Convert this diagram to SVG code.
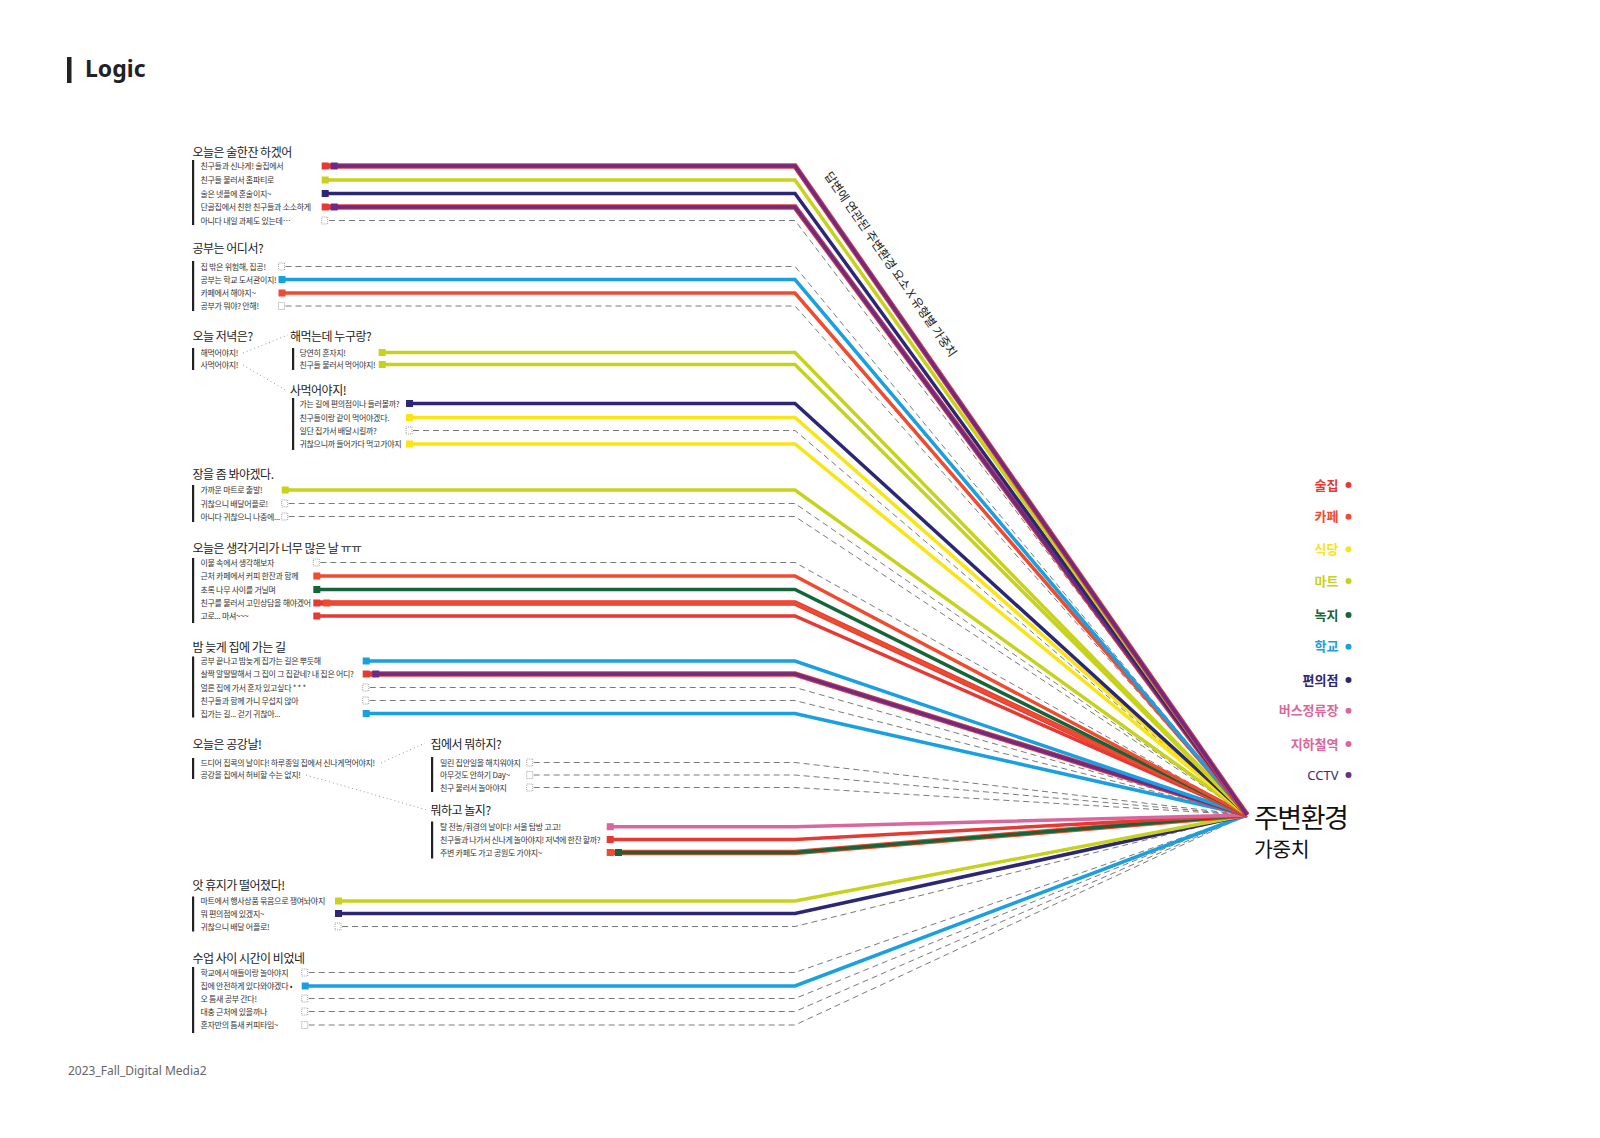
<svg xmlns="http://www.w3.org/2000/svg" width="1600" height="1138" viewBox="0 0 1600 1138">
<style>
text{font-family:"Noto Sans CJK KR","Noto Sans",sans-serif}
.t{font-size:12px;letter-spacing:-0.5px;fill:#222}
.i{font-size:8px;letter-spacing:-0.3px;fill:#333}
.bar{fill:#222}
.l{fill:none;stroke-width:3.5;stroke-linejoin:miter}
.w{stroke-width:5.5}
.d{fill:none;stroke:#7a7a7a;stroke-width:1;stroke-dasharray:6 4}
.e{fill:none;stroke:#8a8a8a;stroke-width:0.8;stroke-dasharray:1 1}
.dot{fill:none;stroke:#999;stroke-width:1;stroke-dasharray:1 3}
.S{stroke:#e53a33}.fS{fill:#e53a33}
.K{stroke:#ef4b30}.fK{fill:#ef4b30}
.Y{stroke:#f9e415}.fY{fill:#f9e415}
.M{stroke:#c6d21b}.fM{fill:#c6d21b}
.G{stroke:#16643a}.fG{fill:#16643a}
.B{stroke:#1a9fe0}.fB{fill:#1a9fe0}
.N{stroke:#2c2774}.fN{fill:#2c2774}
.P{stroke:#d9679e}.fP{fill:#d9679e}
.V{stroke:#6a2c88}.fV{fill:#6a2c88}
.lg{font-size:13px;font-weight:700;text-anchor:end}
</style>
<rect width="1600" height="1138" fill="#fff"/>

<g id="header">
<rect x="67" y="57" width="4.5" height="26" fill="#222"/>
<text x="85" y="77" style="font-family:'Noto Sans',sans-serif;font-size:23px;font-weight:700;fill:#222">Logic</text>
</g>
<g id="footer">
<text x="68" y="1075" style="font-family:'Noto Sans',sans-serif;font-size:12px;fill:#666">2023_Fall_Digital Media2</text>
</g>

<!-- connectors -->
<g id="connectors">
<path class="dot" d="M243,353 L288,335"/>
<path class="dot" d="M243,365 L287,391"/>
<path class="dot" d="M381,763 L425,743"/>
<path class="dot" d="M306,775 L427,810"/>
<polyline class="d" points="329,220.5 795,220.5 1247,815"/>
<polyline class="d" points="285.5,266.5 795,266.5 1247,815"/>
<polyline class="d" points="285.5,306 795,306 1247,815"/>
<polyline class="d" points="413,430.5 795,430.5 1247,815"/>
<polyline class="d" points="288.7,503.5 795,503.5 1247,815"/>
<polyline class="d" points="288.7,516.5 795,516.5 1247,815"/>
<polyline class="d" points="320.3,562.5 795,562.5 1247,815"/>
<polyline class="d" points="369.7,687.5 795,687.5 1247,815"/>
<polyline class="d" points="369.7,700.5 795,700.5 1247,815"/>
<polyline class="d" points="533.7,762.5 795,762.5 1247,815"/>
<polyline class="d" points="533.7,775 795,775 1247,815"/>
<polyline class="d" points="533.7,787.5 795,787.5 1247,815"/>
<polyline class="d" points="342,926.5 795,926.5 1247,815"/>
<polyline class="d" points="308.7,972.5 795,972.5 1247,815"/>
<polyline class="d" points="308.7,998.5 795,998.5 1247,815"/>
<polyline class="d" points="308.7,1011.5 795,1011.5 1247,815"/>
<polyline class="d" points="308.7,1025 795,1025 1247,815"/>
<polyline class="l B" points="305,986 795,986 1247,815"/>
<polyline class="l N" points="338.5,913.5 795,913.5 1247,815"/>
<polyline class="l M" points="338.5,901 795,901 1247,815"/>
<polyline class="l w K" points="610,852.5 795,852.5 1247,815"/>
<polyline class="l G" points="618.5,852.5 795,852.5 1247,815"/>
<polyline class="l S" points="610,839.5 795,839.5 1247,815"/>
<polyline class="l P" points="610,826.7 795,826.7 1247,815"/>
<polyline class="l B" points="366,713.5 795,713.5 1247,815"/>
<polyline class="l w S" points="366,674 795,674 1247,815"/>
<polyline class="l V" points="375.8,674 795,674 1247,815"/>
<polyline class="l B" points="366,661 795,661 1247,815"/>
<polyline class="l S" points="316.8,616 795,616 1247,815"/>
<polyline class="l w S" points="316.8,603 795,603 1247,815"/>
<polyline class="l K" points="326.8,603 795,603 1247,815"/>
<polyline class="l G" points="316.8,589.5 795,589.5 1247,815"/>
<polyline class="l K" points="316.8,576 795,576 1247,815"/>
<polyline class="l M" points="285.2,490 795,490 1247,815"/>
<polyline class="l Y" points="409.5,444 795,444 1247,815"/>
<polyline class="l Y" points="409.5,417.5 795,417.5 1247,815"/>
<polyline class="l N" points="409.5,403.5 795,403.5 1247,815"/>
<polyline class="l M" points="382.2,364.5 795,364.5 1247,815"/>
<polyline class="l M" points="382.2,352.5 795,352.5 1247,815"/>
<polyline class="l K" points="282,293 795,293 1247,815"/>
<polyline class="l B" points="282,279.5 795,279.5 1247,815"/>
<polyline class="l w S" points="325.2,207 795,207 1247,815"/>
<polyline class="l V" points="334.2,207 795,207 1247,815"/>
<polyline class="l N" points="325.2,193.5 795,193.5 1247,815"/>
<polyline class="l M" points="325.2,180 795,180 1247,815"/>
<polyline class="l w S" points="325.2,166 795,166 1247,815"/>
<polyline class="l V" points="334.2,166 795,166 1247,815"/>
</g>

<g id="axis-label">
<text transform="translate(824,175.5) rotate(55.3)" style="font-size:12px;fill:#222">답변에 연관된 주변환경 요소 X 유형별 가중치</text>
</g>

<g id="g1">
<text class="t" x="192.5" y="156.5">오늘은 술한잔 하겠어</text>
<rect class="bar" x="192" y="160" width="2.2" height="65"/>
<text class="i" x="200.5" y="169">친구들과 신나게! 술집에서</text>
<text class="i" x="200.5" y="183">친구들 불러서 홈파티로</text>
<text class="i" x="200.5" y="196.5">술은 넷플에 혼술이지~</text>
<text class="i" x="200.5" y="210">단골집에서 친한 친구들과 소소하게</text>
<text class="i" x="200.5" y="223.5">아니다 내일 과제도 있는데…</text>
<rect class="fS" x="321.7" y="162.5" width="7" height="7"/><rect class="fV" x="330.7" y="162.5" width="7" height="7"/>
<rect class="fM" x="321.7" y="176.5" width="7" height="7"/>
<rect class="fN" x="321.7" y="190" width="7" height="7"/>
<rect class="fS" x="321.7" y="203.5" width="7" height="7"/><rect class="fV" x="330.7" y="203.5" width="7" height="7"/>
<rect class="e" x="321.7" y="217" width="6" height="7"/>
</g>

<g id="g2">
<text class="t" x="192.5" y="253">공부는 어디서?</text>
<rect class="bar" x="192" y="261" width="2.2" height="50"/>
<text class="i" x="200.5" y="269.5">집 밖은 위험해, 집공!</text>
<text class="i" x="200.5" y="282.5">공부는 학교 도서관이지!</text>
<text class="i" x="200.5" y="296">카페에서 해야지~</text>
<text class="i" x="200.5" y="309">공부가 뭐야? 안해!</text>
<rect class="e" x="278.5" y="263" width="6" height="7"/>
<rect class="fB" x="278.5" y="276" width="7" height="7"/>
<rect class="fK" x="278.5" y="289.5" width="7" height="7"/>
<rect class="e" x="278.5" y="302.5" width="6" height="7"/>
</g>

<g id="g3">
<text class="t" x="192.5" y="341">오늘 저녁은?</text>
<rect class="bar" x="192" y="348" width="2.2" height="22"/>
<text class="i" x="200.5" y="355.5">해먹어야지!</text>
<text class="i" x="200.5" y="367.5">사먹어야지!</text>
</g>

<g id="g3a">
<text class="t" x="290" y="341">해먹는데 누구랑?</text>
<rect class="bar" x="292" y="348" width="2.2" height="22"/>
<text class="i" x="299.5" y="355.5">당연히 혼자지!</text>
<text class="i" x="299.5" y="367.5">친구들 불러서 먹어야지!</text>
<rect class="fM" x="378.7" y="349" width="7" height="7"/>
<rect class="fM" x="378.7" y="361" width="7" height="7"/>
</g>

<g id="g3b">
<text class="t" x="290" y="394.5">사먹어야지!</text>
<rect class="bar" x="292" y="398" width="2.2" height="52"/>
<text class="i" x="299.5" y="406.5">가는 길에 편의점이나  들러볼까?</text>
<text class="i" x="299.5" y="420.5">친구들이랑 같이 먹어야겠다.</text>
<text class="i" x="299.5" y="433.5">일단 집가서 배달시킬까?</text>
<text class="i" x="299.5" y="447">귀찮으니까 들어가다 먹고가야지</text>
<rect class="fN" x="406" y="400" width="7" height="7"/>
<rect class="fY" x="406" y="414" width="7" height="7"/>
<rect class="e" x="406" y="427" width="6" height="7"/>
<rect class="fY" x="406" y="440.5" width="7" height="7"/>
</g>

<g id="g4">
<text class="t" x="192.5" y="479">장을 좀 봐야겠다.</text>
<rect class="bar" x="192" y="485" width="2.2" height="37"/>
<text class="i" x="200.5" y="493">가까운 마트로 출발!</text>
<text class="i" x="200.5" y="506.5">귀찮으니 배달어플로!</text>
<text class="i" x="200.5" y="519.5">아니다 귀찮으니 나중에...</text>
<rect class="fM" x="281.7" y="486.5" width="7" height="7"/>
<rect class="e" x="281.7" y="500" width="6" height="7"/>
<rect class="e" x="281.7" y="513" width="6" height="7"/>
</g>

<g id="g5">
<text class="t" x="192.5" y="552.5">오늘은 생각거리가 너무 많은 날 ㅠㅠ</text>
<rect class="bar" x="192" y="558" width="2.2" height="65"/>
<text class="i" x="200.5" y="565.5">이불 속에서 생각해보자</text>
<text class="i" x="200.5" y="579">근처 카페에서 커피 한잔과 함께</text>
<text class="i" x="200.5" y="592.5">초록 나무 사이를 거닐며</text>
<text class="i" x="200.5" y="606">친구를 불러서 고민상담을 해야겠어</text>
<text class="i" x="200.5" y="619">고로... 마셔~~~</text>
<rect class="e" x="313.3" y="559" width="6" height="7"/>
<rect class="fK" x="313.3" y="572.5" width="7" height="7"/>
<rect class="fG" x="313.3" y="586" width="7" height="7"/>
<rect class="fS" x="313.3" y="599.5" width="7" height="7"/><rect class="fK" x="323.3" y="599.5" width="7" height="7"/>
<rect class="fS" x="313.3" y="612.5" width="7" height="7"/>
</g>

<g id="g6">
<text class="t" x="192.5" y="651.5">밤 늦게 집에 가는 길</text>
<rect class="bar" x="192" y="656.5" width="2.2" height="61"/>
<text class="i" x="200.5" y="664">공부 끝나고 밤늦게 집가는 길은 뿌듯해</text>
<text class="i" x="200.5" y="677">살짝 알딸딸해서 그 집이 그 집같네? 내 집은 어디?</text>
<text class="i" x="200.5" y="690.5">얼른 집에 가서 혼자 있고싶다 * * *</text>
<text class="i" x="200.5" y="703.5">친구들과 함께 가니 무섭지 않아</text>
<text class="i" x="200.5" y="716.5">집가는 길... 걷기 귀찮아...</text>
<rect class="fB" x="362.7" y="657.5" width="7" height="7"/>
<rect class="fS" x="362.7" y="670.5" width="7" height="7"/><rect class="fV" x="372.3" y="670.5" width="7" height="7"/>
<rect class="e" x="362.7" y="684" width="6" height="7"/>
<rect class="e" x="362.7" y="697" width="6" height="7"/>
<rect class="fB" x="362.7" y="710" width="7" height="7"/>
</g>

<g id="g7">
<text class="t" x="192.5" y="749">오늘은 공강날!</text>
<rect class="bar" x="192" y="758" width="2.2" height="21"/>
<text class="i" x="200.5" y="766">드디어 집콕의 날이다! 하루종일 집에서 신나게먹어야지!</text>
<text class="i" x="200.5" y="778">공강을 집에서 허비할 수는 없지!</text>
</g>

<g id="g7a">
<text class="t" x="430.5" y="749">집에서 뭐하지?</text>
<rect class="bar" x="431" y="757" width="2.2" height="35"/>
<text class="i" x="440" y="765.5">밀린 집안일을 해치워야지</text>
<text class="i" x="440" y="778">아무것도 안하기 Day~</text>
<text class="i" x="440" y="790.5">친구 불러서 놀아야지</text>
<rect class="e" x="526.7" y="759" width="6" height="7"/>
<rect class="e" x="526.7" y="771.5" width="6" height="7"/>
<rect class="e" x="526.7" y="784" width="6" height="7"/>
</g>

<g id="g7b">
<text class="t" x="430.5" y="815">뭐하고 놀지?</text>
<rect class="bar" x="431" y="821.5" width="2.2" height="37"/>
<text class="i" x="440" y="829.5">탈 전농/휘경의 날이다! 서울 탐방 고고!</text>
<text class="i" x="440" y="842.5" style="letter-spacing:-0.4px">친구들과 나가서 신나게 놀아야지! 저녁에 한잔 할까?</text>
<text class="i" x="440" y="855.5">주변 카페도 가고 공원도 가야지~</text>
<rect class="fP" x="606.7" y="823.2" width="7" height="7"/>
<rect class="fS" x="606.7" y="836" width="7" height="7"/>
<rect class="fK" x="606.7" y="849" width="7" height="7"/><rect class="fG" x="615" y="849" width="7" height="7"/>
</g>

<g id="g8">
<text class="t" x="192.5" y="890">앗 휴지가 떨어졌다!</text>
<rect class="bar" x="192" y="896.5" width="2.2" height="35"/>
<text class="i" x="200.5" y="904">마트에서 행사상품 묶음으로 쟁여놔야지</text>
<text class="i" x="200.5" y="916.5">뭐 편의점에 있겠지~</text>
<text class="i" x="200.5" y="929.5">귀찮으니 배달 어플로!</text>
<rect class="fM" x="335" y="897.5" width="7" height="7"/>
<rect class="fN" x="335" y="910" width="7" height="7"/>
<rect class="e" x="335" y="923" width="6" height="7"/>
</g>

<g id="g9">
<text class="t" x="192.5" y="962.5">수업 사이 시간이 비었네</text>
<rect class="bar" x="192" y="967" width="2.2" height="66"/>
<text class="i" x="200.5" y="975.5">학교에서 애들이랑 놀아야지</text>
<text class="i" x="200.5" y="989">집에 안전하게 있다와야겠다 •</text>
<text class="i" x="200.5" y="1001.5">오 틈새 공부 간다!</text>
<text class="i" x="200.5" y="1014.5">대충 근처에 있을까나</text>
<text class="i" x="200.5" y="1028">혼자만의 틈새 커피타임~</text>
<rect class="e" x="301.7" y="969" width="6" height="7"/>
<rect class="fB" x="301.7" y="982.5" width="7" height="7"/>
<rect class="e" x="301.7" y="995" width="6" height="7"/>
<rect class="e" x="301.7" y="1008" width="6" height="7"/>
<rect class="e" x="301.7" y="1021.5" width="6" height="7"/>
</g>

<g id="target">
<text x="1254" y="828" style="font-size:27px;letter-spacing:-1.5px;fill:#111">주변환경</text>
<text x="1254" y="857" style="font-size:20.5px;letter-spacing:-0.5px;fill:#111">가중치</text>
</g>

<g id="legend">
<text class="lg" x="1338.5" y="489.5" fill="#e53a33">술집</text><circle cx="1348.5" cy="485" r="3" fill="#e53a33"/>
<text class="lg" x="1338.5" y="521" fill="#ef4b30">카페</text><circle cx="1348.5" cy="516.7" r="3" fill="#ef4b30"/>
<text class="lg" x="1338.5" y="553.5" fill="#f9e415">식당</text><circle cx="1348.5" cy="549.3" r="3" fill="#f9e415"/>
<text class="lg" x="1338.5" y="585.5" fill="#c6d21b">마트</text><circle cx="1348.5" cy="581" r="3" fill="#c6d21b"/>
<text class="lg" x="1338.5" y="619.5" fill="#16643a">녹지</text><circle cx="1348.5" cy="615" r="3" fill="#16643a"/>
<text class="lg" x="1338.5" y="651" fill="#1a9fe0">학교</text><circle cx="1348.5" cy="646.7" r="3" fill="#1a9fe0"/>
<text class="lg" x="1338.5" y="684.5" fill="#2c2774">편의점</text><circle cx="1348.5" cy="680" r="3" fill="#2c2774"/>
<text class="lg" x="1338.5" y="715" fill="#d9679e">버스정류장</text><circle cx="1348.5" cy="710.7" r="3" fill="#d9679e"/>
<text class="lg" x="1338.5" y="748.5" fill="#d9679e">지하철역</text><circle cx="1348.5" cy="744" r="3" fill="#d9679e"/>
<text class="lg" x="1338.5" y="779.5" fill="#3b2a78" style="font-family:'Noto Sans',sans-serif;font-weight:400">CCTV</text><circle cx="1348.5" cy="775" r="3" fill="#6a2c88"/>
</g>
</svg>
